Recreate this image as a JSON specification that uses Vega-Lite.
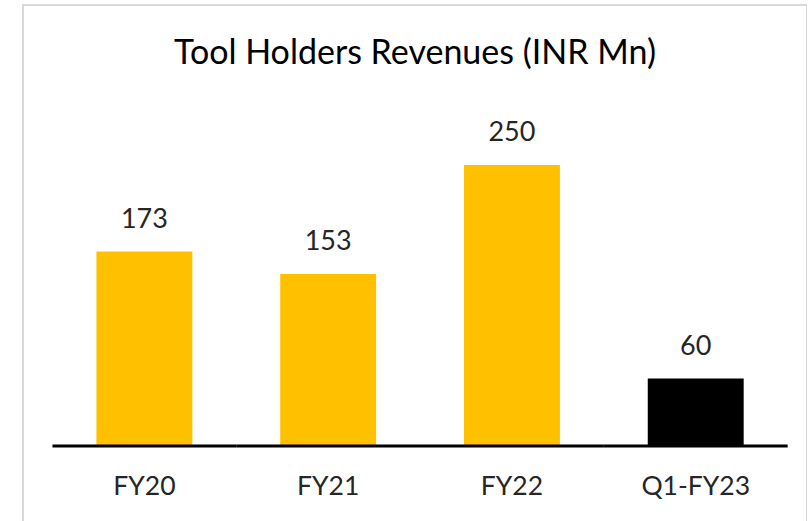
{
  "$schema": "https://vega.github.io/schema/vega-lite/v6.json",
  "autosize": "none",
  "width": 784,
  "height": 520,
  "padding": {"left": 23, "top": 5, "right": 0, "bottom": 0},
  "background": "white",
  "config": {
    "view": {"stroke": "#D9D9D9", "strokeWidth": 2},
    "font": "Lato"
  },
  "title": {
    "text": "Tool Holders Revenues (INR Mn)",
    "fontSize": 34,
    "font": "Lato",
    "fontWeight": "normal",
    "color": "#000000",
    "anchor": "middle",
    "baseline": "middle",
    "offset": -83
  },
  "data": {
    "values": [
      {"period": "FY20", "revenue": 173, "kind": "fy"},
      {"period": "FY21", "revenue": 153, "kind": "fy"},
      {"period": "FY22", "revenue": 250, "kind": "fy"},
      {"period": "Q1-FY23", "revenue": 60, "kind": "q"}
    ]
  },
  "encoding": {
    "x": {
      "field": "period",
      "type": "nominal",
      "sort": null,
      "scale": {"paddingInner": 0.478, "paddingOuter": 0.372, "align": 0.537},
      "axis": {
        "title": null,
        "domain": false,
        "ticks": false,
        "labelAngle": 0,
        "labelFontSize": 26.5,
        "labelColor": "#262626",
        "labelFont": "Lato",
        "offset": -60,
        "labelPadding": 8
      }
    }
  },
  "layer": [
    {
      "mark": {"type": "bar"},
      "encoding": {
        "y": {
          "field": "revenue",
          "type": "quantitative",
          "scale": {"domain": [-70.3, 392.3], "nice": false, "zero": false},
          "axis": null
        },
        "y2": {"datum": 0},
        "color": {
          "field": "kind",
          "type": "nominal",
          "scale": {"domain": ["fy", "q"], "range": ["#FFC000", "#000000"]},
          "legend": null
        }
      }
    },
    {
      "mark": {"type": "rule", "strokeWidth": 3, "color": "#000000", "strokeCap": "butt"},
      "encoding": {
        "x": {"field": "period", "type": "nominal", "sort": null, "bandPosition": -0.4583},
        "x2": {"field": "period", "bandPosition": 1.4583},
        "y": {"datum": 0, "type": "quantitative"}
      }
    },
    {
      "mark": {"type": "text", "fontSize": 27, "baseline": "middle", "dy": -32, "color": "#262626", "font": "Lato"},
      "encoding": {
        "y": {"field": "revenue", "type": "quantitative"},
        "text": {"field": "revenue", "type": "quantitative"}
      }
    }
  ]
}
